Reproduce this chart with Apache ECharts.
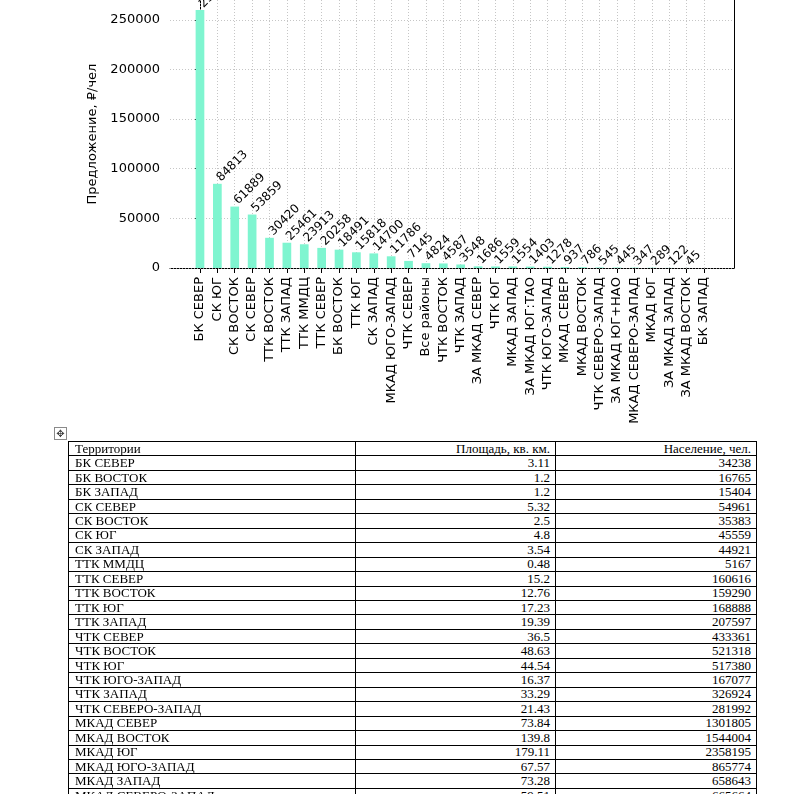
<!DOCTYPE html>
<html>
<head>
<meta charset="utf-8">
<script src="https://cdn.jsdelivr.net/npm/echarts@6/dist/echarts.min.js"></script>
<style>
  html, body { margin: 0; padding: 0; background: #fff; width: 792px; height: 794px; overflow: hidden; position: relative; }
  #chart { position: absolute; left: 0; top: 0; width: 792px; height: 440px; }
  #handle { position: absolute; left: 54px; top: 427px; width: 11px; height: 11px; border: 1px solid #8a8a8a; font: 10px "DejaVu Sans"; line-height: 11px; text-align: center; color: #444; }
  #tbl { position: absolute; left: 68px; top: 441px; width: 688px; border-collapse: collapse; font-family: "Liberation Serif", serif; font-size: 13px; color: #000; table-layout: fixed; }
  #tbl tr { height: 14.46px; }
  #tbl td { border: 1px solid #000; line-height: 12px; padding: 0 5px 0 6px; white-space: nowrap; overflow: hidden; }
  #tbl td.n { text-align: right; }
</style>
</head>
<body>
<div id="chart"></div>
<div id="handle">✥</div>
<table id="tbl"><colgroup><col style="width:287px"><col style="width:200px"><col style="width:201px"></colgroup><tbody id="tb"></tbody></table>
<script>
// ---- chart data ----
const categories = ['БК СЕВЕР','СК ЮГ','СК ВОСТОК','СК СЕВЕР','ТТК ВОСТОК','ТТК ЗАПАД','ТТК ММДЦ','ТТК СЕВЕР','БК ВОСТОК','ТТК ЮГ','СК ЗАПАД','МКАД ЮГО-ЗАПАД','ЧТК СЕВЕР','Все районы','ЧТК ВОСТОК','ЧТК ЗАПАД','ЗА МКАД СЕВЕР','ЧТК ЮГ','МКАД ЗАПАД','ЗА МКАД ЮГ:ТАО','ЧТК ЮГО-ЗАПАД','МКАД СЕВЕР','МКАД ВОСТОК','ЧТК СЕВЕРО-ЗАПАД','ЗА МКАД ЮГ+НАО','МКАД СЕВЕРО-ЗАПАД','МКАД ЮГ','ЗА МКАД ЗАПАД','ЗА МКАД ВОСТОК','БК ЗАПАД'];
const values = [259900,84813,61889,53859,30420,25461,23913,20258,18491,15818,14700,11786,7145,4824,4587,3548,1686,1559,1554,1403,1278,937,786,545,445,347,289,122,45,null];
const yTicks = [0,50000,100000,150000,200000,250000];
const yName = 'Предложение, ₽/чел';

// ---- table data ----
const tableHeader = ['Территории','Площадь, кв. км.','Население, чел.'];
const territories = ['БК СЕВЕР','БК ВОСТОК','БК ЗАПАД','СК СЕВЕР','СК ВОСТОК','СК ЮГ','СК ЗАПАД','ТТК ММДЦ','ТТК СЕВЕР','ТТК ВОСТОК','ТТК ЮГ','ТТК ЗАПАД','ЧТК СЕВЕР','ЧТК ВОСТОК','ЧТК ЮГ','ЧТК ЮГО-ЗАПАД','ЧТК ЗАПАД','ЧТК СЕВЕРО-ЗАПАД','МКАД СЕВЕР','МКАД ВОСТОК','МКАД ЮГ','МКАД ЮГО-ЗАПАД','МКАД ЗАПАД','МКАД СЕВЕРО-ЗАПАД'];
const areas = ['3.11','1.2','1.2','5.32','2.5','4.8','3.54','0.48','15.2','12.76','17.23','19.39','36.5','48.63','44.54','16.37','33.29','21.43','73.84','139.8','179.11','67.57','73.28','59.51'];
const population = ['34238','16765','15404','54961','35383','45559','44921','5167','160616','159290','168888','207597','433361','521318','517380','167077','326924','281992','1301805','1544004','2358195','865774','658643','665664'];

// build table
const tb = document.getElementById('tb');
function addRow(cells) {
  const tr = document.createElement('tr');
  cells.forEach((c, k) => {
    const td = document.createElement('td');
    td.textContent = c;
    if (k > 0) td.className = 'n';
    tr.appendChild(td);
  });
  tb.appendChild(tr);
}
addRow(tableHeader);
territories.forEach((t, i) => addRow([t, areas[i], population[i]]));

// chart
const idx = categories.map((c, i) => i);
const chart = echarts.init(document.getElementById('chart'), null, { renderer: 'canvas' });
const font = 'DejaVu Sans';
const gridStyle = { type: [1, 2], color: '#b8b8b8', width: 0.8 };
chart.setOption({
  animation: false,
  grid: { left: 170, top: 0, width: 564, height: 268, containLabel: false },
  xAxis: {
    type: 'value', min: -1.725, max: 30.725,
    axisLine: { show: true, onZero: false, lineStyle: { color: '#000', width: 1 } },
    axisTick: { show: true, customValues: idx, length: 5, lineStyle: { color: '#000' } },
    axisLabel: { customValues: idx, rotate: 90, margin: 9, fontFamily: font, fontSize: 13, color: '#000', formatter: v => categories[v] },
    splitLine: { show: false }
  },
  yAxis: [{
    type: 'value', min: 0, max: 270000,
    name: yName, nameLocation: 'middle', nameGap: 53, nameTextStyle: { fontFamily: font, fontSize: 13, color: '#000' },
    axisLine: { show: true, lineStyle: { color: '#000', width: 1 } },
    axisTick: { show: true, customValues: yTicks, length: 5, lineStyle: { color: '#000' } },
    axisLabel: { customValues: yTicks, margin: 10, fontFamily: font, fontSize: 13, color: '#000', formatter: v => String(v) },
    splitLine: { show: false }
  }, {
    type: 'value', min: 0, max: 270000, position: 'right',
    axisLine: { show: true, lineStyle: { color: '#000', width: 1 } },
    axisTick: { show: false }, axisLabel: { show: false }, splitLine: { show: false }
  }],
  series: [{
    type: 'bar', z: 2, barWidth: 8.7,
    itemStyle: { color: '#7ff5d0' },
    data: values.map((v, i) => [i, v == null ? '-' : v]),
    label: {
      show: true, position: 'top', distance: 0, rotate: 45, align: 'left', verticalAlign: 'bottom',
      offset: [4, 4],
      fontFamily: font, fontSize: 12, color: '#000',
      formatter: p => String(p.value[1])
    },
    markLine: {
      silent: true, symbol: ['none', 'none'], label: { show: false }, z: 1,
      lineStyle: gridStyle, emphasis: { disabled: true },
      data: yTicks.map(v => ({ yAxis: v })).concat(idx.map(i => ({ xAxis: i })))
    }
  }]
});
</script>
</body>
</html>
